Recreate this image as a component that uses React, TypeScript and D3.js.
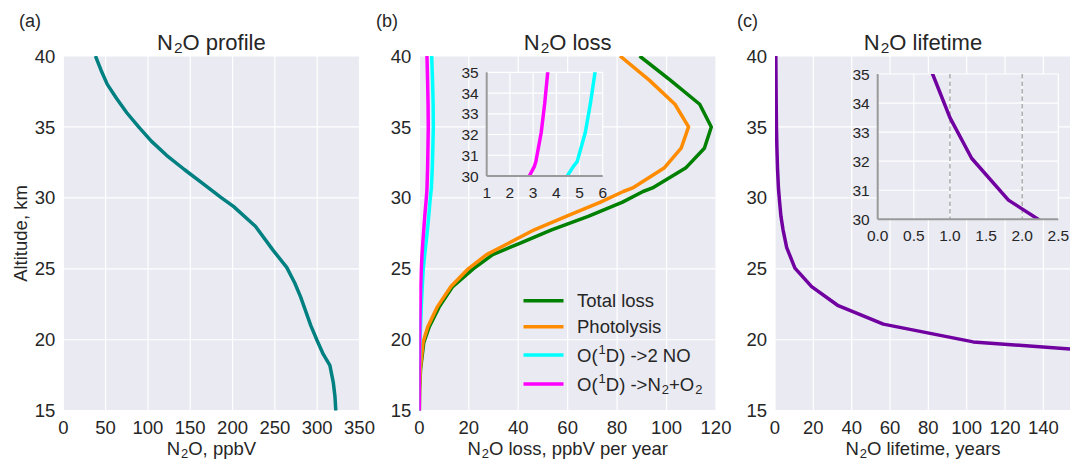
import React, { useEffect, useRef } from 'react';
import * as d3 from 'd3';

// panel (a) N2O profile
const profileAlt = [40, 39, 38, 37, 36, 35, 34, 33, 32, 31, 30, 29.4, 28, 26.3, 25.1, 24, 23, 22, 21, 20, 19, 18.2, 17, 16, 15];
const profileN2O = [38, 44.6, 52, 63, 75, 89, 104, 122, 143, 165, 187, 201, 227, 248, 264, 273.5, 280.5, 286.5, 292.5, 299.5, 307, 315, 319, 321, 322];

// panel (b) N2O loss, ppbV per year
const lossAlt = [15, 16.5, 17.9, 19.8, 20.9, 22.3, 23.75, 25.0, 26.0, 26.8, 27.75, 28.7, 29.7, 30.45, 30.7, 32.1, 33.5, 35.0, 36.6, 38.3, 40];
const totalLoss = [0, 0.1, 0.5, 1.8, 4.0, 8.0, 13.5, 21.8, 29.7, 40.6, 53.5, 68.3, 82.2, 90.5, 94.3, 107.7, 115.3, 118.1, 113.4, 101.5, 89.1];
const photolysis = [0, 0.1, 0.4, 1.5, 3.4, 7.2, 12.8, 19.8, 27.2, 36.1, 46.5, 59.4, 73.3, 82.5, 86.3, 99.0, 105.9, 108.9, 103.4, 93.0, 81.2];
const o1dNO = [0, 0, 0.05, 0.25, 0.5, 0.8, 1.2, 1.6, 2.2, 2.7, 3.3, 3.8, 4.3, 4.73, 4.9, 5.25, 5.47, 5.67, 5.6, 5.35, 5.0];
const o1dN2O2 = [0, 0, 0, 0.1, 0.2, 0.35, 0.55, 0.8, 1.1, 1.4, 1.8, 2.2, 2.7, 3.05, 3.12, 3.35, 3.5, 3.63, 3.55, 3.35, 3.1];

// panel (c) N2O lifetime, years
const lifeAlt = [17.9, 19.85, 21.1, 22.4, 23.75, 25.05, 26.5, 27.75, 28.7, 29.7, 30.66, 32.1, 33.5, 35.0, 36.6, 38.3, 40];
const lifetime = [300, 103.4, 56.5, 33.0, 19.1, 10.4, 6.1, 4.2, 3.1, 2.41, 1.81, 1.30, 1.0, 0.76, 0.63, 0.52, 0.42];

// ticks
const altTicks = [15, 20, 25, 30, 35, 40];
const profileTicks = [0, 50, 100, 150, 200, 250, 300, 350];
const lossTicks = [0, 20, 40, 60, 80, 100, 120];
const lifeTicks = [0, 20, 40, 60, 80, 100, 120, 140];
const insetAltTicks = [30, 31, 32, 33, 34, 35];
const lossInsetTicks = [1, 2, 3, 4, 5, 6];
const lifeInsetTicks = [0, 0.5, 1, 1.5, 2, 2.5];
const lifeRefLines = [1, 2];

const BG = '#EAEAF2';
const TXT = '#262626';
const FONT = '"Liberation Sans", Arial, sans-serif';
const TICK = 18.5;

type Part = [string, string?];

// write text with sub/superscripts as tspans
function rich(sel: any, parts: Part[], size: number) {
  let shift = 0;
  parts.forEach(([t, k]) => {
    const target = k === 'sub' ? size * 0.16 : k === 'sup' ? -size * 0.42 : 0;
    const ts = sel.append('tspan').text(t).attr('dy', target - shift);
    if (k) ts.attr('font-size', size * 0.7).attr('dx', 1);
    shift = target;
  });
}

function App() {
  const ref = useRef<SVGSVGElement>(null);

  useEffect(() => {
    if (!ref.current) return;
    const svg = d3.select(ref.current);
    svg.selectAll('*').remove();
    svg.attr('font-family', FONT);
    const defs = svg.append('defs');

    const y = d3.scaleLinear().domain([15, 40]).range([410.7, 56]);

    const panel = (id: string, x0: number, x1: number, domain: number[], xticks: number[],
      title: Part[], xlabel: Part[], tag: string, tagX: number) => {
      const x = d3.scaleLinear().domain(domain).range([x0, x1]);
      const g = svg.append('g');
      defs.append('clipPath').attr('id', id).append('rect')
        .attr('x', x0).attr('y', y(40)).attr('width', x1 - x0).attr('height', y(15) - y(40));
      g.append('rect').attr('x', x0).attr('y', y(40)).attr('width', x1 - x0)
        .attr('height', y(15) - y(40)).attr('fill', BG);
      g.selectAll('.gx').data(xticks).join('line')
        .attr('x1', (d) => x(d)).attr('x2', (d) => x(d)).attr('y1', y(40)).attr('y2', y(15))
        .attr('stroke', '#fff').attr('stroke-width', 1.2);
      g.selectAll('.gy').data(altTicks).join('line')
        .attr('x1', x0).attr('x2', x1).attr('y1', (d) => y(d)).attr('y2', (d) => y(d))
        .attr('stroke', '#fff').attr('stroke-width', 1.2);
      // tick labels
      g.selectAll('.tx').data(xticks).join('text')
        .attr('x', (d) => x(d)).attr('y', 433.5).attr('text-anchor', 'middle')
        .attr('font-size', TICK).attr('fill', TXT).text((d) => d);
      g.selectAll('.ty').data(altTicks).join('text')
        .attr('x', x0 - 8).attr('y', (d) => y(d) + 6.6).attr('text-anchor', 'end')
        .attr('font-size', TICK).attr('fill', TXT).text((d) => d);
      // title, x label, panel tag
      rich(g.append('text').attr('x', (x0 + x1) / 2).attr('y', 49.5).attr('text-anchor', 'middle')
        .attr('font-size', 22).attr('fill', TXT), title, 22);
      rich(g.append('text').attr('x', (x0 + x1) / 2).attr('y', 455).attr('text-anchor', 'middle')
        .attr('font-size', 18.5).attr('fill', TXT), xlabel, 18.5);
      g.append('text').attr('x', tagX).attr('y', 27).attr('font-size', 18).attr('fill', TXT).text(tag);
      return { x, g };
    };

    const drawLine = (g: any, x: any, yy: any, xs: number[], alts: number[], color: string, clip: string, w = 3.5) => {
      const line = d3.line<number>().x((d, i) => x(xs[i])).y((d, i) => yy(alts[i]));
      g.append('path').datum(alts).attr('d', line).attr('fill', 'none')
        .attr('stroke', color).attr('stroke-width', w).attr('stroke-linejoin', 'round')
        .attr('clip-path', `url(#${clip})`);
    };

    const inset = (id: string, x0: number, x1: number, yTop: number, yBot: number,
      domain: number[], xticks: number[], fmt: (v: number) => string) => {
      const x = d3.scaleLinear().domain(domain).range([x0, x1]);
      const yi = d3.scaleLinear().domain([30, 35]).range([yBot, yTop]);
      const g = svg.append('g');
      defs.append('clipPath').attr('id', id).append('rect')
        .attr('x', x0).attr('y', yTop).attr('width', x1 - x0).attr('height', yBot - yTop);
      g.append('rect').attr('x', x0).attr('y', yTop).attr('width', x1 - x0)
        .attr('height', yBot - yTop).attr('fill', BG);
      g.selectAll('.gx').data(xticks).join('line')
        .attr('x1', (d) => x(d)).attr('x2', (d) => x(d)).attr('y1', yTop).attr('y2', yBot)
        .attr('stroke', '#fff').attr('stroke-width', 1.2);
      g.selectAll('.gy').data(insetAltTicks).join('line')
        .attr('x1', x0).attr('x2', x1).attr('y1', (d) => yi(d)).attr('y2', (d) => yi(d))
        .attr('stroke', '#fff').attr('stroke-width', 1.2);
      g.selectAll('.tx').data(xticks).join('text')
        .attr('x', (d) => x(d)).attr('y', yBot + 21.5).attr('text-anchor', 'middle')
        .attr('font-size', 15.5).attr('fill', TXT).text((d) => fmt(d));
      g.selectAll('.ty').data(insetAltTicks).join('text')
        .attr('x', x0 - 8).attr('y', (d) => yi(d) + 5.5).attr('text-anchor', 'end')
        .attr('font-size', 15.5).attr('fill', TXT).text((d) => d);
      return { x, yi, g };
    };

    const spines = (g: any, x0: number, x1: number, yTop: number, yBot: number) => {
      g.append('line').attr('x1', x0).attr('x2', x0).attr('y1', yTop).attr('y2', yBot)
        .attr('stroke', '#999').attr('stroke-width', 2);
      g.append('line').attr('x1', x0).attr('x2', x1).attr('y1', yBot).attr('y2', yBot)
        .attr('stroke', '#999').attr('stroke-width', 2);
    };

    // (a)
    const pa = panel('clipA', 63.3, 359.5, [0, 350], profileTicks,
      [['N'], ['2', 'sub'], ['O profile']], [['N'], ['2', 'sub'], ['O, ppbV']], '(a)', 19);
    drawLine(pa.g, pa.x, y, profileN2O, profileAlt, '#008080', 'clipA');
    svg.append('text').attr('transform', 'translate(27,233.5) rotate(-90)')
      .attr('text-anchor', 'middle').attr('font-size', 18.5).attr('fill', TXT).text('Altitude, km');

    // (b)
    const pb = panel('clipB', 419.3, 716, [0, 120], lossTicks,
      [['N'], ['2', 'sub'], ['O loss']], [['N'], ['2', 'sub'], ['O loss, ppbV per year']], '(b)', 376);
    const lossSeries = [
      { vals: totalLoss, color: '#008000', label: [['Total loss']] as Part[] },
      { vals: photolysis, color: '#FF8C00', label: [['Photolysis']] as Part[] },
      { vals: o1dNO, color: '#00FFFF', label: [['O('], ['1', 'sup'], ['D) ->2 NO']] as Part[] },
      { vals: o1dN2O2, color: '#FF00FF', label: [['O('], ['1', 'sup'], ['D) ->N'], ['2', 'sub'], ['+O'], ['2', 'sub']] as Part[] },
    ];
    lossSeries.forEach((s) => drawLine(pb.g, pb.x, y, s.vals, lossAlt, s.color, 'clipB'));
    const legendY = [300.7, 326.7, 355, 384];
    lossSeries.forEach((s, i) => {
      pb.g.append('line').attr('x1', 523.5).attr('x2', 563.5).attr('y1', legendY[i]).attr('y2', legendY[i])
        .attr('stroke', s.color).attr('stroke-width', 3.5);
      rich(pb.g.append('text').attr('x', 577).attr('y', legendY[i] + 6.6)
        .attr('font-size', 18.5).attr('fill', TXT), s.label, 18.5);
    });
    const ib = inset('clipBi', 486.7, 602.7, 72.3, 176, [1, 6], lossInsetTicks, (v) => String(v));
    drawLine(ib.g, ib.x, ib.yi, o1dNO, lossAlt, '#00FFFF', 'clipBi');
    drawLine(ib.g, ib.x, ib.yi, o1dN2O2, lossAlt, '#FF00FF', 'clipBi');
    spines(ib.g, 486.7, 602.7, 72.3, 176);

    // (c)
    const pc = panel('clipC', 775, 1071, [0, 154.4], lifeTicks,
      [['N'], ['2', 'sub'], ['O lifetime']], [['N'], ['2', 'sub'], ['O lifetime, years']], '(c)', 737);
    drawLine(pc.g, pc.x, y, lifetime, lifeAlt, '#7000A0', 'clipC');
    const ic = inset('clipCi', 877.7, 1058.3, 74, 219.3, [0, 2.5], lifeInsetTicks, d3.format('.1f'));
    ic.g.selectAll('.ref').data(lifeRefLines).join('line')
      .attr('x1', (d) => ic.x(d)).attr('x2', (d) => ic.x(d)).attr('y1', 74).attr('y2', 219.3)
      .attr('stroke', '#999').attr('stroke-width', 1.2).attr('stroke-dasharray', '4.5,3');
    drawLine(ic.g, ic.x, ic.yi, lifetime, lifeAlt, '#7000A0', 'clipCi');
    spines(ic.g, 877.7, 1058.3, 74, 219.3);
  }, []);

  return (
    <svg ref={ref} width={1070} height={460}
      style={{ position: 'absolute', left: 0, top: 0, background: '#fff' }} />
  );
}

export default App;
